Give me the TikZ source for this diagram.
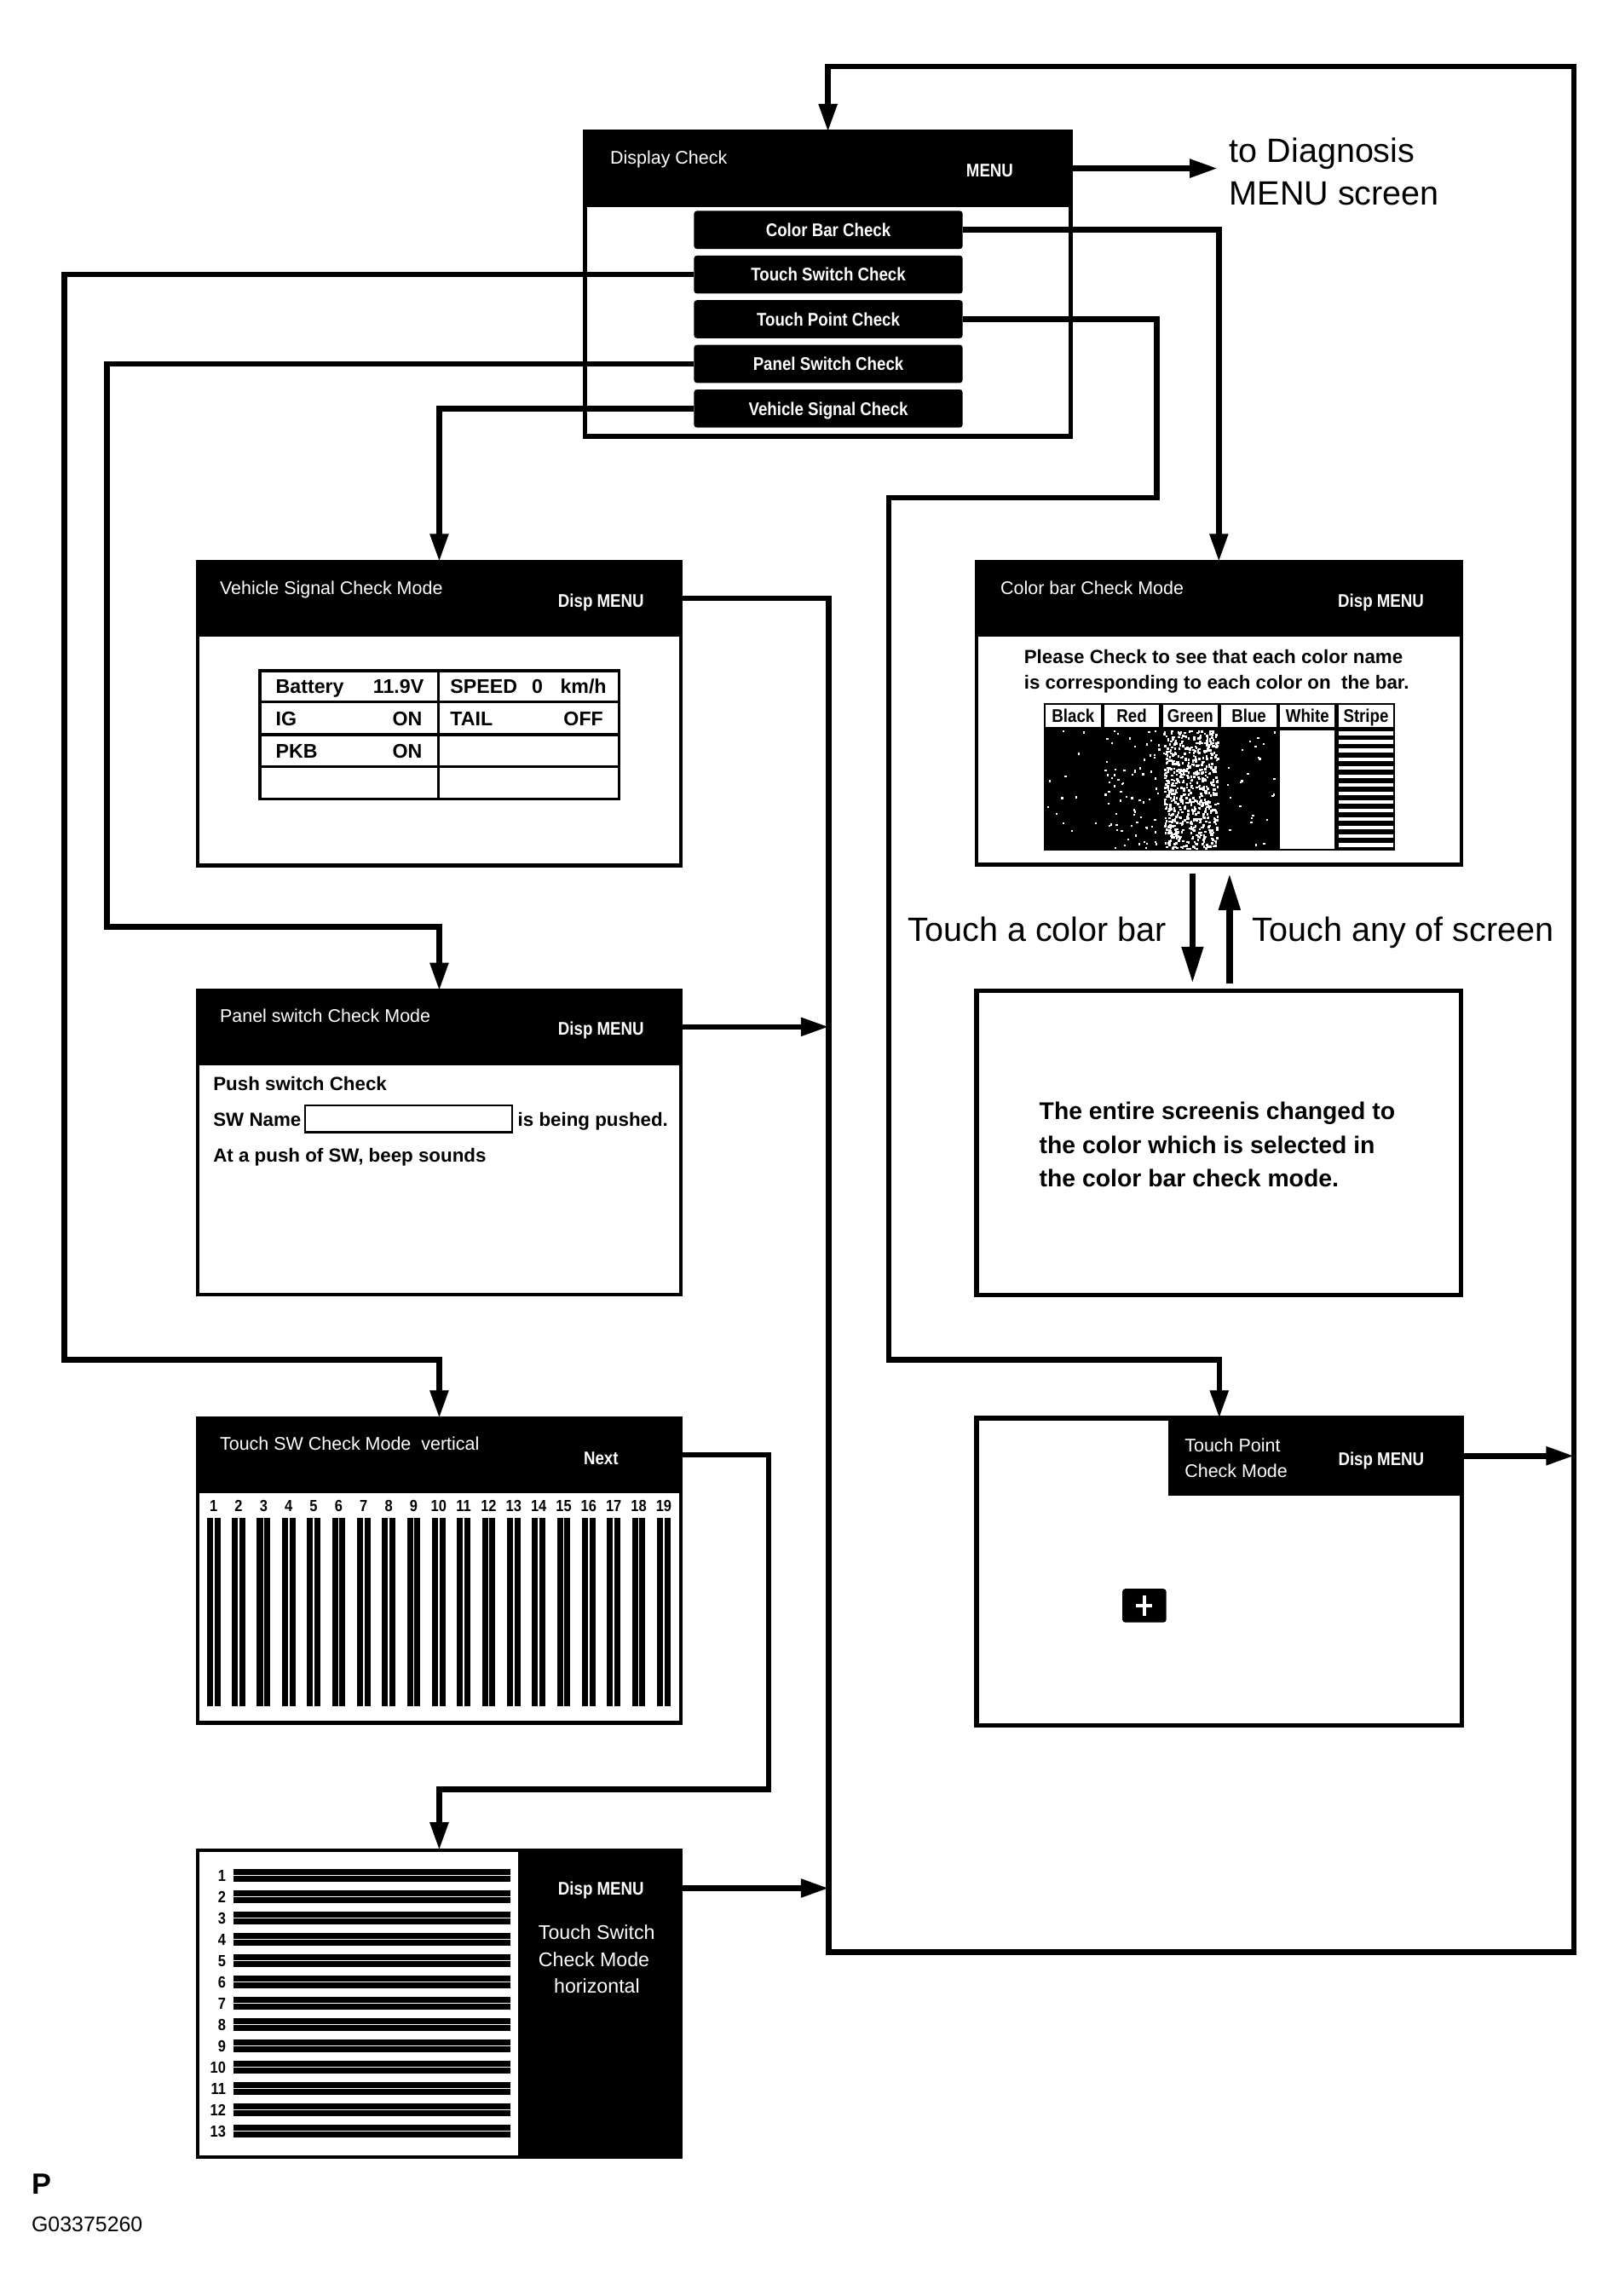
\documentclass[tikz,border=0pt]{standalone}
\usepackage{fontspec}
\setmainfont{Liberation Sans}
\newfontfamily\condf[FakeStretch=0.87]{Liberation Sans}
\usetikzlibrary{arrows.meta,calc}
\newcommand\fsz[1]{\fontsize{#1}{#1}\selectfont}
\begin{document}
\begin{tikzpicture}[x=1pt,y=-1pt,
  tsz/.code={\pgfmathsetmacro\capht{0.716*#1}\pgfkeysalso{/tikz/execute at begin node={\fsz{#1}},/tikz/text height/.expanded={\capht pt},/tikz/text depth=0pt}},
  scr/.style={draw=black,line width=2.5pt,fill=white,inner sep=0pt,outer sep=0pt,anchor=north west},
  hdr/.style={draw=black,fill=black,line width=2.5pt,inner sep=0pt,outer sep=0pt,anchor=north west},
  btn/.style={fill=black,rounded corners=2pt,inner sep=0pt,outer sep=0pt,minimum width=183.5pt,minimum height=26pt,anchor=north west,text=white,font=\condf\bfseries,tsz=12.5},
  wt/.style={text=white,inner sep=0pt,anchor=west,tsz=12.5},
  wb/.style={text=white,inner sep=0pt,font=\condf\bfseries,tsz=12.5},
  bt/.style={inner sep=0pt,font=\bfseries,tsz=13.5},
  nb/.style={inner sep=0pt,font=\condf\bfseries,tsz=11},
  lb/.style={inner sep=0pt,font=\condf\bfseries,tsz=12.5},
  conn/.style={line width=3.8pt,-{Triangle[length=19pt,width=12pt]}},
  dbl/.style={line width=4.5pt,-{Triangle[length=25pt,width=14pt]}}
]
\useasboundingbox (0,0) rectangle (1098,1568);
\fill[white] (0,0) rectangle (1098,1568);

% ---------- Display Check ----------
\node[scr,line width=3pt,minimum width=332pt,minimum height=208pt] (dc) at (399.5,90) {};
\node[hdr,line width=3pt,minimum width=332pt,minimum height=50pt] (dch) at (399.5,90) {};
\node[wt] (dct) at (416.6,107.7) {Display Check};
\node[wb] (dcm) at (676,116.4) {MENU};
\node[btn] (bCB) at (474,144) {Color Bar Check};
\node[btn] (bTS) at (474,174.5) {Touch Switch Check};
\node[btn] (bTP) at (474,205) {Touch Point Check};
\node[btn] (bPS) at (474,235.5) {Panel Switch Check};
\node[btn] (bVS) at (474,266) {Vehicle Signal Check};

\node[anchor=west,inner sep=0pt,tsz=23] (dg1) at (839.6,102.9) {to Diagnosis};
\node[anchor=west,inner sep=0pt,tsz=23] (dg2) at (839.6,132) {MENU screen};

% ---------- Vehicle Signal Check Mode ----------
\node[scr,minimum width=330pt,minimum height=207.5pt] (vs) at (135,383.5) {};
\node[hdr,minimum width=330pt,minimum height=50pt] (vsh) at (135,383.5) {};
\node[wt] (vst) at (150,401.7) {Vehicle Signal Check Mode};
\node[wb] (vsm) at (410.5,410.4) {Disp MENU};
\draw[line width=2pt] (177.6,458) rectangle (422.7,545.7);
\draw[line width=2pt] (177.6,479.3) -- (422.7,479.3) (177.6,501.6) -- (422.7,501.6) (177.6,523.6) -- (422.7,523.6) (299.6,458) -- (299.6,545.7);
\node[bt,anchor=west] (c1) at (188.2,468.7) {Battery};
\node[bt,anchor=east] (c2) at (289.6,468.7) {11.9V};
\node[bt,anchor=west] (c3) at (307.4,468.7) {SPEED};
\node[bt] (c4) at (367,468.7) {0};
\node[bt,anchor=east] (c5) at (414.4,468.7) {km/h};
\node[bt,anchor=west] (c6) at (188.2,490.5) {IG};
\node[bt,anchor=east] (c7) at (288.5,490.5) {ON};
\node[bt,anchor=west] (c8) at (307.4,490.5) {TAIL};
\node[bt,anchor=east] (c9) at (412.2,490.5) {OFF};
\node[bt,anchor=west] (c10) at (188.2,512.6) {PKB};
\node[bt,anchor=east] (c11) at (288.5,512.6) {ON};

% ---------- Panel switch Check Mode ----------
\node[scr,minimum width=330pt,minimum height=207.5pt] (ps) at (135,676.5) {};
\node[hdr,minimum width=330pt,minimum height=49.5pt] (psh) at (135,676.5) {};
\node[wt] (pst) at (150,693.8) {Panel switch Check Mode};
\node[wb] (psm) at (410.5,702.5) {Disp MENU};
\node[bt,tsz=13,anchor=west] (p1) at (145.5,740.3) {Push switch Check};
\node[bt,tsz=13,anchor=west] (p2) at (145.5,764.6) {SW Name};
\node[draw,line width=1.5pt,inner sep=0pt,outer sep=0pt,minimum width=141.5pt,minimum height=18.4pt,anchor=north west] (p3) at (208.3,754.9) {};
\node[bt,tsz=13,anchor=west] (p4) at (353.5,764.6) {is being pushed.};
\node[bt,tsz=13,anchor=west] (p5) at (145.5,788.8) {At a push of SW, beep sounds};

% ---------- Touch SW Check Mode vertical ----------
\node[scr,minimum width=330pt,minimum height=208pt] (tv) at (135,968.5) {};
\node[hdr,minimum width=330pt,minimum height=50pt] (tvh) at (135,968.5) {};
\node[wt] (tvt) at (150,985.8) {Touch SW Check Mode\ \ vertical};
\node[wb] (tvm) at (410.5,995.5) {Next};
\foreach \i in {1,...,19} {
  \pgfmathsetmacro\cx{145.9+17.08*(\i-1)}
  \node[nb] (vn\i) at (\cx,1028.5) {\i};
  \fill (\cx-4.6,1036.5) rectangle (\cx-0.5,1165.5);
  \fill (\cx+0.5,1036.5) rectangle (\cx+4.6,1165.5);
}

% ---------- Touch Switch Check Mode horizontal ----------
\node[scr,minimum width=330pt,minimum height=209.5pt] (th) at (135,1263.5) {};
\node[hdr,minimum width=110pt,minimum height=209.5pt] (thp) at (355,1263.5) {};
\node[wb] (thm) at (410.5,1289.5) {Disp MENU};
\node[wt,tsz=13.5] (th1) at (367.6,1319.6) {Touch Switch};
\node[wt,tsz=13.5] (th2) at (367.6,1338) {Check Mode};
\node[wt,tsz=13.5,anchor=center] (th3) at (407.7,1356.5) {horizontal};
\foreach \i in {1,...,13} {
  \pgfmathsetmacro\cy{1280.8+14.55*(\i-1)}
  \node[nb,anchor=east] (hn\i) at (154.4,\cy) {\i};
  \fill (159.3,\cy-4.2) rectangle (348.7,\cy-0.5);
  \fill (159.3,\cy+0.5) rectangle (348.7,\cy+4.2);
}

% ---------- Color bar Check Mode ----------
\node[scr,minimum width=331pt,minimum height=207pt] (cb) at (667,383.5) {};
\node[hdr,minimum width=331pt,minimum height=50pt] (cbh) at (667,383.5) {};
\node[wt] (cbt) at (683.2,401.7) {Color bar Check Mode};
\node[wb] (cbm) at (943.2,410.4) {Disp MENU};
\node[bt,tsz=13,anchor=west] (cb1) at (699.3,448.3) {Please Check to see that each color name};
\node[bt,tsz=13,anchor=west] (cb2) at (699.3,465.7) {is corresponding to each color on\ \ the bar.};
\fill (713,480) rectangle (953,581);
\foreach \lab [count=\k from 0] in {Black,Red,Green,Blue,White,Stripe} {
  \fill[white] (714.3+40*\k,481.6) rectangle (751.7+40*\k,496.3);
  \node[lb] (cl\k) at (733+40*\k,489) {\lab};
}
\pgfmathsetseed{4242}
\foreach \i in {1,...,12} {\fill[white] ({714.5+37*rnd},{498.5+81*rnd}) rectangle ++(1.3,1.3);}
\foreach \i in {1,...,75} {\fill[white] ({754.5+37*rnd},{498.5+81*rnd}) rectangle ++(1.3,1.3);}
\foreach \i in {1,...,650} {\fill[white] ({794.3+37*rnd},{498.5+80.5*rnd}) rectangle ++(1.5,1.5);}
\foreach \i in {1,...,25} {\fill[white] ({834.5+37*rnd},{498.5+81*rnd}) rectangle ++(1.3,1.3);}
\fill[white] (874.3,498.6) rectangle (911.7,579.6);
\foreach \j in {0,...,13} {\fill[white] (914.3,{499.6+5.85*\j}) rectangle (951.7,{502.2+5.85*\j});}

% ---------- Full colour screen ----------
\node[scr,line width=3pt,minimum width=331pt,minimum height=208pt] (fscr) at (667,676.5) {};
\node[bt,tsz=16.5,anchor=west] (f1) at (709.7,758.8) {The entire screenis changed to};
\node[bt,tsz=16.5,anchor=west] (f2) at (709.7,782) {the color which is selected in};
\node[bt,tsz=16.5,anchor=west] (f3) at (709.7,804.4) {the color bar check mode.};

\node[anchor=east,inner sep=0pt,tsz=23] (la) at (797,634.6) {Touch a color bar};
\node[anchor=west,inner sep=0pt,tsz=23] (lr) at (855.2,634.6) {Touch any of screen};

% ---------- Touch Point Check Mode ----------
\node[scr,line width=3pt,minimum width=331.5pt,minimum height=210pt] (tp) at (667,968.5) {};
\node[hdr,line width=3pt,minimum width=199pt,minimum height=51.5pt] (tph) at (799.5,968.5) {};
\node[wt] (tp1) at (809,986.8) {Touch Point};
\node[wt] (tp2) at (809,1004.3) {Check Mode};
\node[wb] (tpm) at (943.4,996.5) {Disp MENU};
\node[fill=black,rounded corners=2pt,minimum width=30pt,minimum height=23pt,inner sep=0pt,anchor=north west] (tpx) at (766.4,1084.8) {};
\draw[white,line width=2.6pt] ([yshift=6.8pt]tpx.center) -- ([yshift=-6.8pt]tpx.center);
\draw[white,line width=2.6pt] ([xshift=-5.5pt]tpx.center) -- ([xshift=5.5pt]tpx.center);

% ---------- Footer ----------
\node[anchor=west,inner sep=0pt,font=\bfseries,tsz=20] (fp) at (21.4,1491) {P};
\node[anchor=west,inner sep=0pt,tsz=14.5] (fg) at (21.4,1519) {G03375260};

% ---------- Connectors ----------
\coordinate (cT) at (1075,45.5);
\coordinate (cB) at (566,1333);
\coordinate (cL1) at (44,928.5);
\coordinate (cL2) at (73,633);
\coordinate (cR1) at (790,340);
\coordinate (cR2) at (607,928.5);
\coordinate (cN) at (525,1222);

\draw[conn] (dch.east) -- ([xshift=-8pt]dch.east -| dg1.west);
\draw[conn] (vsh.east) -| (cB) -| (cT) -| (dc.north);
\draw[conn] (psh.east) -- (psh.east -| cB);
\draw[conn] (thp.east |- thm) -- (cB |- thm);
\draw[conn] (tph.east) -- (tph.east -| cT);
\draw[conn] (bCB.east) -| (cb.north);
\draw[conn] (bTS.west) -| (cL1) -| (tv.north);
\draw[conn] (bPS.west) -| (cL2) -| (ps.north);
\draw[conn] (bVS.west) -| (vs.north);
\draw[conn] (bTP.east) -| (cR1) -| (cR2) -| (tp.north);
\draw[conn] (tvh.east) -| (cN) -| (th.north);
\draw[dbl] ([xshift=-18pt,yshift=-6pt]cb.south) -- ([xshift=-18pt,yshift=5pt]fscr.north);
\draw[dbl] ([xshift=7.3pt,yshift=5pt]fscr.north) -- ([xshift=7.3pt,yshift=-6pt]cb.south);
\end{tikzpicture}
\end{document}
